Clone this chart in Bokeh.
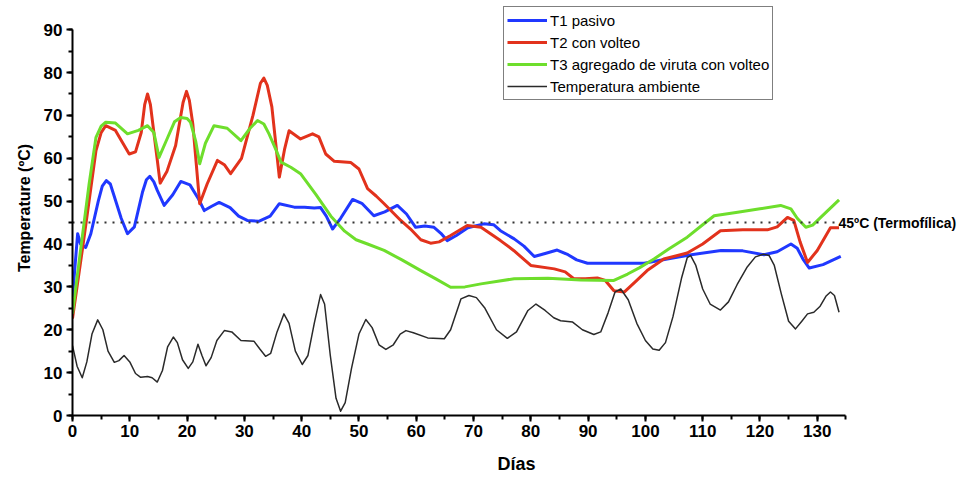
from bokeh.plotting import figure
from bokeh.models import (SingleIntervalTicker, Label, Legend, LegendItem)
from bokeh.embed import file_html
from bokeh.resources import INLINE

# ---------------- data ----------------
t1_days = [0, 0.9, 1.4, 2.3, 3.2, 4.5, 5.2, 5.9, 6.6, 7.2, 8.5, 9.6, 10.8, 12.2, 12.9, 13.5, 14.2, 14.8,
           16.0, 17.5, 18.9, 20.5, 22.0, 23.0, 24.3, 25.6, 27.5, 29.0, 30.5, 32.5,
           34.5, 36.1, 38.7, 40.5, 42.2, 43.3, 44.3, 45.4, 46.8, 48.9, 50.5, 52.6,
           54.5, 56.7, 58.3, 59.9, 61.5, 63.1, 64.3, 65.4, 67.0, 69.0, 71.8, 73.5,
           74.7, 77.1, 78.8, 80.6, 82.5, 84.6, 86.5, 88.0, 89.9, 95.0, 99.8, 103.8,
           108.0, 113.2, 117.0, 120.7, 123.0, 125.4, 126.5, 127.5, 128.6, 131.0, 134.1]
t1_temp = [27.6, 42.4, 40.0, 39.2, 42.4, 50.0, 53.5, 54.8, 54.0, 51.5, 46.0, 42.4, 44.0, 52.0, 55.0, 55.8, 54.5, 52.5,
           49.0, 51.5, 54.6, 53.8, 50.5, 47.8, 48.8, 49.7, 48.5, 46.5, 45.5, 45.3,
           46.5, 49.4, 48.6, 48.6, 48.4, 48.5, 46.5, 43.5, 46.0, 50.4, 49.5, 46.6,
           47.5, 49.0, 47.0, 43.9, 44.2, 43.9, 42.5, 40.8, 42.0, 43.8, 44.7, 44.5,
           43.1, 41.2, 39.5, 37.1, 37.8, 38.6, 37.5, 36.3, 35.5, 35.5, 35.5, 36.5,
           37.5, 38.5, 38.4, 37.5, 38.2, 40.0, 39.0, 36.5, 34.4, 35.2, 37.1]

t2_days = [0, 1.7, 2.9, 4.1, 5.0, 5.8, 7.5, 8.8, 9.9, 11.0, 12.0, 12.6, 13.1, 13.6, 14.2, 15.3, 16.5,
           18.0, 19.3, 19.9, 20.4, 21.0, 22.2, 23.5, 25.3, 26.5, 27.6, 29.5, 31.5, 32.8, 33.4, 34.0, 34.8,
           36.1, 37.0, 37.8, 39.8, 41.9, 43.0, 44.2, 45.7, 48.6, 50.0, 51.5, 53.0,
           54.4, 57.3, 59.0, 60.8, 62.5, 64.0, 66.0, 68.9, 71.3, 74.7, 77.0, 80.0,
           84.1, 86.0, 87.5, 89.5, 91.6, 93.0, 94.5, 96.3, 98.5, 100.3, 103.2, 107.3,
           110.0, 113.1, 117.0, 121.3, 123.0, 124.8, 125.9, 127.0, 128.3, 130.0, 132.3, 133.8]
t2_temp = [22.6, 38.5, 50.1, 61.8, 66.0, 67.6, 66.5, 63.5, 61.0, 61.5, 66.0, 72.5, 75.0, 72.5, 66.0, 54.2, 57.0,
           63.0, 73.0, 75.6, 73.5, 68.0, 49.4, 54.0, 59.5, 58.5, 56.4, 60.0, 70.0, 77.5, 78.7, 77.0, 72.0,
           55.6, 62.0, 66.4, 64.5, 65.7, 65.0, 61.0, 59.3, 59.0, 57.5, 52.9, 51.2,
           49.4, 45.5, 43.5, 41.0, 40.2, 40.5, 42.0, 44.3, 43.9, 40.8, 38.5, 35.0,
           34.2, 33.5, 31.9, 31.9, 32.1, 31.5, 29.1, 28.8, 31.5, 33.8, 36.5, 37.9,
           40.0, 43.1, 43.3, 43.3, 44.0, 46.2, 45.5, 40.5, 35.7, 38.5, 43.8, 43.8]

t3_days = [0, 1.4, 2.9, 4.1, 5.0, 5.8, 7.5, 9.6, 11.5, 13.1, 14.2, 15.1, 16.5, 17.8, 18.9, 20.0, 20.6,
           21.5, 22.2, 23.2, 24.7, 27.0, 29.4, 31.0, 32.3, 33.4, 34.3, 35.5, 36.4, 38.1, 39.8,
           42.5, 45.1, 47.5, 49.5, 51.5, 54.4, 57.5, 60.8, 63.5, 66.0, 68.5, 71.3,
           77.1, 83.0, 88.7, 94.5, 96.9, 99.0, 101.5, 104.0, 107.3, 110.0, 112.0, 116.1, 120.0,
           123.6, 125.4, 126.5, 128.0, 129.2, 130.6, 133.8]
t3_temp = [23.7, 38.5, 54.0, 64.9, 67.5, 68.4, 68.2, 65.7, 66.5, 67.6, 66.0, 60.2, 64.5, 68.5, 69.5, 69.3, 68.4,
           64.0, 58.7, 63.5, 67.6, 67.0, 64.1, 67.0, 68.8, 68.0, 65.7, 62.0, 59.1, 57.9, 56.4,
           51.5, 46.5, 43.0, 41.0, 40.0, 38.5, 36.3, 33.8, 31.8, 29.9, 30.0, 30.7,
           31.9, 32.0, 31.6, 31.5, 33.0, 34.5, 36.5, 38.8, 41.6, 44.5, 46.6, 47.4, 48.2,
           49.0, 48.2, 46.0, 43.9, 44.4, 46.2, 50.3]

amb_days = [0, 0.8, 1.7, 2.5, 3.4, 4.4, 5.3, 6.2, 7.3, 8.1, 9.0, 10.0, 11.0, 11.9, 13.1,
            13.9, 14.8, 15.7, 16.6, 17.6, 18.3, 19.2, 20.2, 21.0, 21.9, 22.6, 23.3, 24.2,
            25.2, 26.5, 27.8, 29.4, 31.7, 32.7, 33.7, 34.6, 35.7, 36.9, 37.8, 38.9, 40.1,
            41.1, 42.2, 43.3, 44.0, 45.0, 46.0, 46.8, 47.6, 48.7, 50.0, 51.2, 52.3, 53.5,
            54.7, 56.0, 57.2, 58.2, 59.5, 62.0, 64.9, 66.0, 67.8, 69.2, 70.5, 72.0, 74.0,
            75.9, 77.5, 79.5, 80.9, 82.5, 84.0, 85.2, 87.3, 89.0, 91.0, 92.2, 93.5, 94.7,
            95.7, 97.0, 98.5, 100.0, 101.3, 102.4, 103.5, 104.8, 106.3, 107.3, 107.9,
            108.8, 110.0, 111.3, 113.1, 114.5, 116.0, 117.7, 119.2, 120.6, 121.6, 122.5,
            123.7, 125.0, 126.2, 127.3, 128.3, 129.4, 130.5, 131.5, 132.3, 133.0, 133.8]
amb_temp = [16.3, 11.5, 8.8, 12.5, 19.0, 22.3, 20.0, 15.0, 12.4, 12.8, 14.0, 12.5, 9.8, 8.9, 9.1,
            8.8, 7.8, 10.5, 16.0, 18.3, 17.0, 13.0, 11.0, 12.5, 16.6, 14.0, 11.6, 13.5,
            17.5, 19.8, 19.5, 17.5, 17.3, 15.5, 13.8, 14.5, 19.5, 23.7, 21.5, 15.0, 11.9,
            14.0, 21.5, 28.2, 26.0, 14.0, 4.0, 1.0, 3.0, 11.0, 19.0, 22.4, 20.5, 16.5,
            15.4, 16.5, 19.0, 19.8, 19.3, 18.1, 17.9, 20.0, 27.2, 28.0, 27.5, 25.0, 20.0,
            18.0, 19.5, 24.5, 26.0, 24.5, 22.8, 22.1, 21.8, 20.0, 18.9, 19.5, 24.0, 28.8,
            29.5, 27.0, 21.5, 17.5, 15.5, 15.2, 17.0, 23.0, 32.0, 36.8, 37.3,
            35.0, 29.5, 26.0, 24.6, 26.5, 30.5, 34.5, 37.0, 37.6, 37.3, 35.0,
            28.5, 22.0, 20.2, 22.0, 23.7, 24.1, 25.5, 27.8, 28.8, 28.0, 24.1]

series_names = ["T1 pasivo", "T2 con volteo", "T3 agregado de viruta con volteo",
                "Temperatura ambiente"]
threshold = 45
threshold_text = "45ºC (Termofílica)"
x_title = "Días"
y_title = "Temperature (ºC)"
x_last_day = 135
y_top = 90

# ---------------- figure ----------------
p = figure(width=960, height=477, x_range=(0, 155), y_range=(0, 96.8),
           output_backend="svg", toolbar_location=None,
           min_border_left=72, min_border_right=0, min_border_top=0,
           min_border_bottom=62)
p.outline_line_color = None
p.grid.grid_line_color = None
p.background_fill_color = "white"
p.border_fill_color = "white"

for ax in (p.xaxis, p.yaxis):
    ax.ticker = SingleIntervalTicker(interval=10, num_minor_ticks=2)
    ax.axis_line_width = 2
    ax.axis_line_color = "black"
    ax.major_tick_line_width = 2
    ax.minor_tick_line_width = 2
    ax.major_tick_out = 6
    ax.major_tick_in = 0
    ax.minor_tick_out = 4
    ax.minor_tick_in = 0
    ax.major_label_text_font = "Liberation Sans"
    ax.major_label_text_font_style = "bold"
    ax.major_label_text_font_size = "17px"
    ax.major_label_text_color = "black"
    ax.axis_label_text_font = "Liberation Sans"
    ax.axis_label_text_font_style = "bold"
    ax.axis_label_text_color = "black"

p.xaxis.bounds = (0, x_last_day)
p.yaxis.bounds = (0, y_top)
p.xaxis.axis_label = x_title
p.xaxis.axis_label_text_font_size = "18px"
p.xaxis.major_label_standoff = 3
p.xaxis.axis_label_standoff = 14
p.yaxis.axis_label = y_title
p.yaxis.axis_label_text_font_size = "16px"
p.yaxis.major_label_standoff = 4
p.yaxis.axis_label_standoff = 8

colors = ["#2038ff", "#e2321c", "#6ede2c", "#2a2a2a"]
widths = [3, 3, 3, 1.5]
data = [(t1_days, t1_temp), (t2_days, t2_temp), (t3_days, t3_temp), (amb_days, amb_temp)]

renderers = []
for (xs, ys), c, w in zip(data, colors, widths):
    r = p.line(xs, ys, line_color=c, line_width=w, line_join="round")
    renderers.append(r)

# dotted threshold line, limited to the data range
p.line([0, x_last_day - 1], [threshold, threshold], line_color="#333333",
       line_width=2, line_dash="2 6")

p.add_layout(Label(x=x_last_day - 1.3, y=threshold, text=threshold_text,
                   text_font="Liberation Sans", text_font_style="bold",
                   text_font_size="14px", text_baseline="middle", text_color="black"))

legend = Legend(items=[LegendItem(label=n, renderers=[r]) for n, r in zip(series_names, renderers)],
                location=(431, 315), orientation="vertical",
                label_text_font="Liberation Sans", label_text_font_size="15px",
                label_text_color="black",
                glyph_width=40, glyph_height=20, label_height=20, label_standoff=3,
                spacing=2, padding=3, margin=0,
                border_line_color="black", border_line_width=1.5,
                background_fill_color="white", background_fill_alpha=1.0)
p.add_layout(legend)

open("out.html", "w").write(file_html(p, INLINE))
